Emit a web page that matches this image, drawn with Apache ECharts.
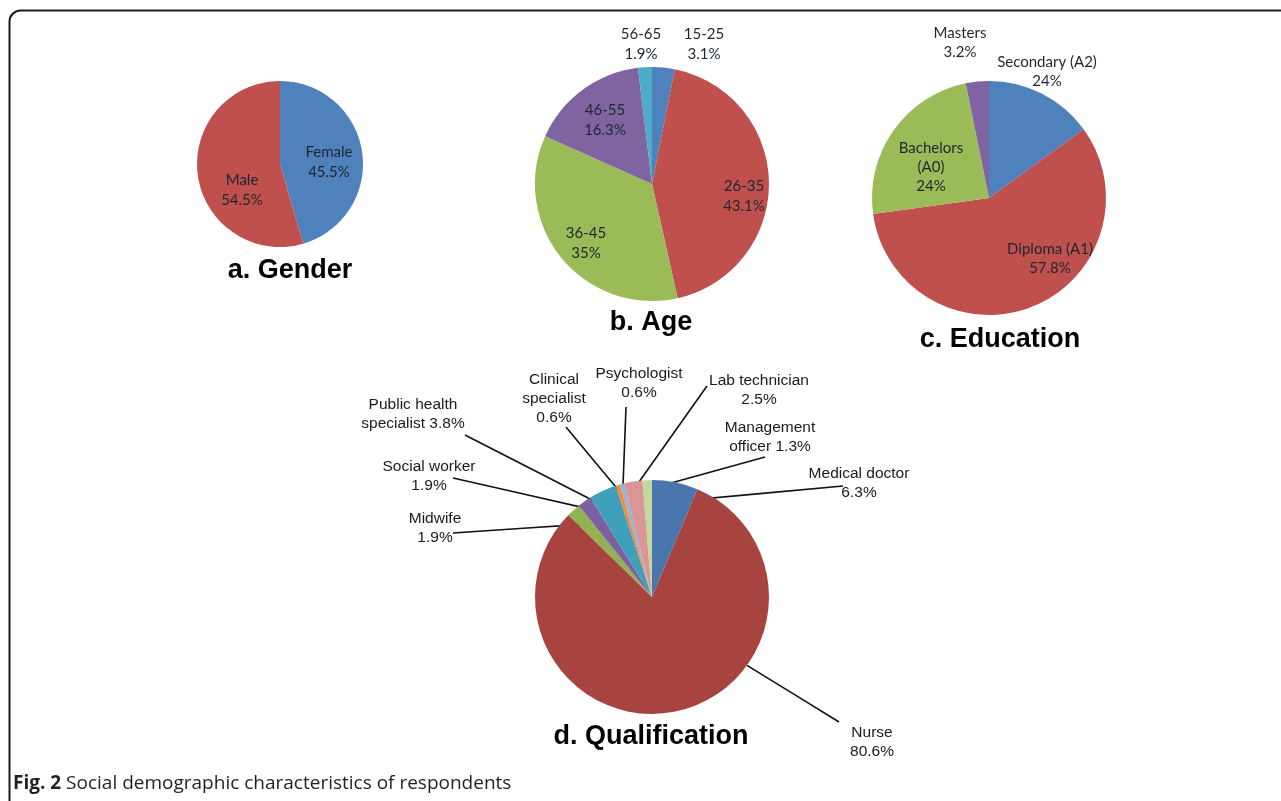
<!DOCTYPE html>
<html>
<head>
<meta charset="utf-8">
<script src="https://cdn.jsdelivr.net/npm/echarts@6/dist/echarts.min.js"></script>
<style>
html,body{margin:0;padding:0;background:#fff;}
#c{width:1281px;height:801px;}
</style>
</head>
<body>
<div id="c"></div>
<script>
// ---- data ----
var genderCats = ['Female', 'Male'];
var genderValues = [45.5, 54.5];
var genderPrinted = ['45.5%', '54.5%'];

var ageCats = ['15-25', '26-35', '36-45', '46-55', '56-65'];
var ageValues = [3.1, 43.1, 35, 16.3, 1.9];
var agePrinted = ['3.1%', '43.1%', '35%', '16.3%', '1.9%'];

var eduCats = ['Secondary (A2)', 'Diploma (A1)', 'Bachelors (A0)', 'Masters'];
var eduValues = [15, 57.8, 24, 3.2];          // slice sizes as drawn
var eduPrinted = ['24%', '57.8%', '24%', '3.2%']; // percentages as printed

var qualCats = ['Medical doctor', 'Nurse', 'Midwife', 'Social worker', 'Public health specialist',
  'Clinical specialist', 'Psychologist', 'Lab technician', 'Management officer'];
var qualValues = [6.3, 80.6, 1.9, 1.9, 3.8, 0.6, 0.6, 2.5, 1.3];
var qualPrinted = ['6.3%', '80.6%', '1.9%', '1.9%', '3.8%', '0.6%', '0.6%', '2.5%', '1.3%'];

var titles = ['a. Gender', 'b. Age', 'c. Education', 'd. Qualification'];
var caption = 'Social demographic characteristics of respondents';
var captionLead = 'Fig. 2';

// ---- styles / layout ----
var officeColors = ['#4F81BD', '#C0504D', '#9BBB59', '#8064A2', '#4BACC6'];
var qualColors = ['#4A76AE', '#A8443F', '#92B153', '#7D60A0', '#3FA0BC', '#F18D3A', '#94B3DC', '#D99694', '#C3D69B'];
var smallFont = 'Lato, "Open Sans", sans-serif';
var arial = '"Liberation Sans", Arial, sans-serif';

var genderLabelPos = [[329, 162], [242, 190]];
var ageLabelPos = [[704, 44], [744, 196], [586, 243], [605, 120], [641, 44]];
var eduLabelPos = [[1047, 72], [1050, 259], [931, 167], [960, 43]];

var QC = [652, 597], QR = 117;
// label centre, line end, anchor (t: fraction within slice, r: fraction of radius)
var qualLabelLayout = [
  { x: 859, y: 483, end: [843, 486], t: 0.5, r: 0.83 },
  { x: 872, y: 742, end: [839, 722], t: 0.353, r: 1.0 },
  { x: 435, y: 528, end: [453, 533], t: 0.5, r: 0.84 },
  { x: 429, y: 476, end: [453, 478], t: 0.5, r: 0.92 },
  { x: 413, y: 414, end: [465, 435], t: 0.5, r: 0.82 },
  { x: 554, y: 399, end: [566, 427], t: 0.5, r: 0.94 },
  { x: 639, y: 383, end: [626, 407], t: 0.5, r: 0.97 },
  { x: 759, y: 390, end: [707, 386], t: 0.5, r: 0.94 },
  { x: 770, y: 437, end: [765, 457], t: 0.5, r: 0.92 }
];
var qualWrap = {
  'Medical doctor': 'Medical doctor\n{p}',
  'Nurse': 'Nurse\n{p}',
  'Midwife': 'Midwife\n{p}',
  'Social worker': 'Social worker\n{p}',
  'Public health specialist': 'Public health\nspecialist {p}',
  'Clinical specialist': 'Clinical\nspecialist\n{p}',
  'Psychologist': 'Psychologist\n{p}',
  'Lab technician': 'Lab technician\n{p}',
  'Management officer': 'Management\nofficer {p}'
};
var eduWrap = { 'Bachelors (A0)': 'Bachelors\n(A0)' };

function mk(cats, vals, colors) {
  return cats.map(function (c, i) {
    return { name: c, value: vals[i], itemStyle: { color: colors[i] } };
  });
}
function fixedLayout(posArr) {
  return function (p) {
    var q = posArr[p.dataIndex];
    return { x: q[0], y: q[1], align: 'center', verticalAlign: 'middle' };
  };
}

// anchors for the qualification leader lines, from cumulative values
var qualTotal = qualValues.reduce(function (a, b) { return a + b; }, 0);
var qualStart = [];
(function () { var acc = 0; qualValues.forEach(function (v) { qualStart.push(acc); acc += v; }); })();

var smallLabel = {
  show: true, position: 'inside', color: '#1f2630', fontFamily: smallFont,
  fontSize: 15, lineHeight: 20, align: 'center'
};

var chart = echarts.init(document.getElementById('c'), null, { renderer: 'canvas' });
chart.setOption({
  animation: false,
  backgroundColor: '#fff',
  graphic: [
    { type: 'rect', shape: { x: 9.5, y: 10.5, width: 1400, height: 850, r: 11 },
      style: { fill: 'none', stroke: '#1a1a1a', lineWidth: 2 }, silent: true },
    { type: 'text', x: 290, y: 271, style: { text: titles[0], font: 'bold 27px "Liberation Sans", Arial, sans-serif', fill: '#000', textAlign: 'center', textVerticalAlign: 'middle' } },
    { type: 'text', x: 651, y: 323, style: { text: titles[1], font: 'bold 27px "Liberation Sans", Arial, sans-serif', fill: '#000', textAlign: 'center', textVerticalAlign: 'middle' } },
    { type: 'text', x: 1000, y: 340, style: { text: titles[2], font: 'bold 27px "Liberation Sans", Arial, sans-serif', fill: '#000', textAlign: 'center', textVerticalAlign: 'middle' } },
    { type: 'text', x: 651, y: 737, style: { text: titles[3], font: 'bold 27px "Liberation Sans", Arial, sans-serif', fill: '#000', textAlign: 'center', textVerticalAlign: 'middle' } },
    { type: 'text', x: 13, y: 784, style: {
        text: '{b|' + captionLead + '} ' + caption,
        font: '19px "Open Sans", Lato, sans-serif', fill: '#231f20', textVerticalAlign: 'middle',
        rich: { b: { fontWeight: 'bold', fontSize: 19, fontFamily: '"Open Sans", Lato, sans-serif', fill: '#231f20' } }
      } }
  ],
  series: [
    {
      type: 'pie', center: [280, 164], radius: 83, startAngle: 90, clockwise: true,
      data: mk(genderCats, genderValues, officeColors),
      label: Object.assign({}, smallLabel, {
        formatter: function (p) { return p.name + '\n' + genderPrinted[p.dataIndex]; }
      }),
      labelLine: { show: false },
      labelLayout: fixedLayout(genderLabelPos),
      emphasis: { disabled: true }
    },
    {
      type: 'pie', center: [652, 184], radius: 117, startAngle: 90, clockwise: true,
      data: mk(ageCats, ageValues, officeColors),
      label: Object.assign({}, smallLabel, {
        formatter: function (p) { return p.name + '\n' + agePrinted[p.dataIndex]; }
      }),
      labelLine: { show: false },
      labelLayout: fixedLayout(ageLabelPos),
      emphasis: { disabled: true }
    },
    {
      type: 'pie', center: [989, 198], radius: 117, startAngle: 90, clockwise: true,
      data: mk(eduCats, eduValues, officeColors),
      label: Object.assign({}, smallLabel, {
        lineHeight: 19,
        formatter: function (p) { return (eduWrap[p.name] || p.name) + '\n' + eduPrinted[p.dataIndex]; }
      }),
      labelLine: { show: false },
      labelLayout: fixedLayout(eduLabelPos),
      emphasis: { disabled: true }
    },
    {
      type: 'pie', center: QC, radius: QR, startAngle: 90, clockwise: true,
      avoidLabelOverlap: false,
      data: mk(qualCats, qualValues, qualColors),
      label: {
        show: true, position: 'outside', color: '#1a1a1a', fontFamily: arial,
        fontSize: 15.5, lineHeight: 19, align: 'center',
        formatter: function (p) { return qualWrap[p.name].replace('{p}', qualPrinted[p.dataIndex]); }
      },
      labelLine: { show: true, length: 10, length2: 10, lineStyle: { color: '#111', width: 1.6 } },
      labelLayout: function (p) {
        var L = qualLabelLayout[p.dataIndex];
        var i = p.dataIndex;
        var ang = (qualStart[i] + qualValues[i] * L.t) / qualTotal * Math.PI * 2;
        var sx = QC[0] + QR * L.r * Math.sin(ang);
        var sy = QC[1] - QR * L.r * Math.cos(ang);
        return {
          x: L.x, y: L.y, align: 'center', verticalAlign: 'middle',
          labelLinePoints: [[sx, sy], [(sx + L.end[0]) / 2, (sy + L.end[1]) / 2], L.end]
        };
      },
      emphasis: { disabled: true }
    }
  ]
});
</script>
</body>
</html>
